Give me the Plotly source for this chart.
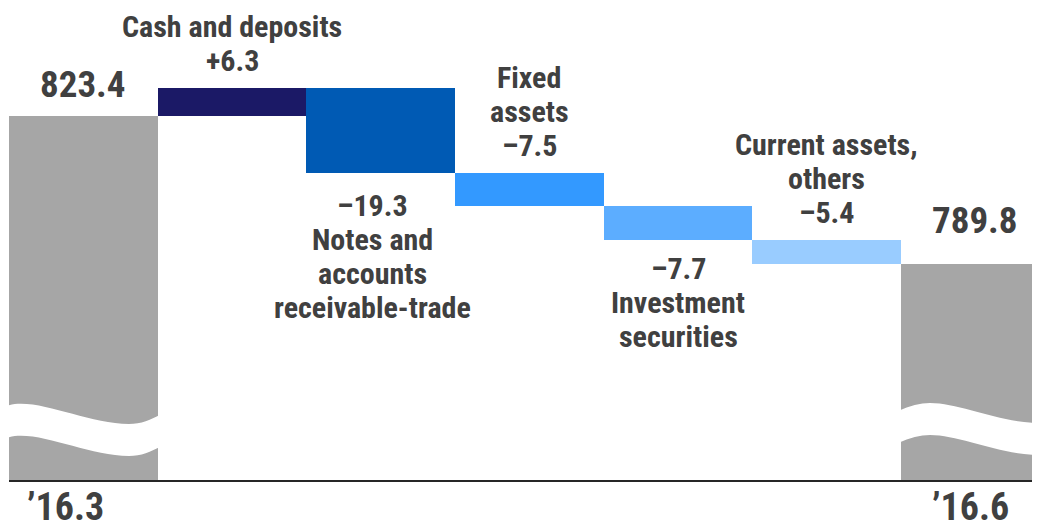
import plotly.graph_objects as go

# balance sheet walk, in the units shown on the chart
start_label = "\u201916.3"
end_label = "\u201916.6"
start_total = 823.4
end_total = 789.8
change_names = [
    ["Cash and deposits"],
    ["Notes and", "accounts", "receivable-trade"],
    ["Fixed", "assets"],
    ["Investment", "securities"],
    ["Current assets,", "others"],
]
changes = [6.3, -19.3, -7.5, -7.7, -5.4]
change_texts = ["+6.3", "\u201319.3", "\u20137.5", "\u20137.7", "\u20135.4"]
total_texts = ["823.4", "789.8"]

# styling
bar_colors = ["#a6a6a6", "#1b1966", "#005ab4", "#3399ff", "#5cadff", "#99ccff", "#a6a6a6"]
text_color = "#404040"
font_family = "Roboto Condensed, DejaVu Sans Condensed, sans-serif"
y_floor = 740.8
y_top = 847.9
line_gap = 34
label_above = [True, False, True, False, True]
edge_gap = [28, 32, 28, 28, 28]

# bar bases / heights from the running total
bases = [y_floor]
heights = [start_total - y_floor]
level = start_total
for c in changes:
    bases.append(level if c > 0 else level + c)
    heights.append(abs(c))
    level += c
bases.append(y_floor)
heights.append(end_total - y_floor)
xs = list(range(len(heights)))

fig = go.Figure(go.Bar(
    x=xs, y=heights, base=bases, width=1,
    marker=dict(color=bar_colors, line=dict(width=0)),
    hoverinfo="skip",
))

anns = []
def add_text(x, y, text, yshift, size=30, xshift=0):
    anns.append(dict(x=x, y=y, xref="x", yref="y", text=text, showarrow=False,
                     yanchor="middle", xanchor="center", xshift=xshift, yshift=yshift,
                     font=dict(family=font_family, size=size, color=text_color, weight="bold")))

for i, c in enumerate(changes):
    x = i + 1
    top = bases[x] + heights[x]
    bottom = bases[x]
    if label_above[i]:
        lines = change_names[i] + [change_texts[i]]
        n = len(lines)
        for k, ln in enumerate(lines):
            add_text(x, top, ln, edge_gap[i] + (n - 1 - k) * line_gap)
    else:
        lines = [change_texts[i]] + change_names[i]
        xsh = -8 if i == 1 else 0
        for k, ln in enumerate(lines):
            add_text(x, bottom, ln, -(edge_gap[i] + k * line_gap), xshift=xsh)

add_text(0, start_total, total_texts[0], 31, size=37)
add_text(6, end_total, total_texts[1], 44, size=37)
add_text(0, y_floor, start_label, -27, size=38, xshift=-18)
add_text(6, y_floor, end_label, -27, size=38, xshift=-5)

# wavy axis-break bands on the two total bars (dx in px from bar left edge, y in px)
bar_px = 148.67
plot_top = 8
plot_bottom = 480
band = 32
waves = {
    0: [(-3, 406), (27, 396), (77, 424), (120, 424), (132, 424), (142, 420), (152, 414)],
    6: [(-3, 411), (9, 406), (19, 403), (29, 403), (59, 403), (99, 423), (139, 423)],
}
shapes = []
for i, pts in waves.items():
    def pt(dx, py):
        return "%.4f,%.4f" % (i - 0.5 + dx / bar_px,
                              (plot_bottom - py) / (plot_bottom - plot_top))
    top = [pt(dx, py) for dx, py in pts]
    bot = [pt(dx, py + band) for dx, py in pts]
    extra_r = pt(bar_px + 5, pts[-1][1])
    extra_rb = pt(bar_px + 5, pts[-1][1] + band)
    path = ("M %s C %s %s %s C %s %s %s L %s L %s L %s C %s %s %s C %s %s %s Z" %
            (top[0], top[1], top[2], top[3], top[4], top[5], top[6], extra_r,
             extra_rb, bot[6], bot[5], bot[4], bot[3], bot[2], bot[1], bot[0]))
    shapes.append(dict(type="path", path=path, xref="x", yref="paper",
                       fillcolor="white", line=dict(width=0), layer="above"))

# page body has an 8px margin, so the figure is 8px smaller than the window
fig.update_layout(
    width=1032, height=521,
    margin=dict(l=1, r=0, t=0, b=49),
    plot_bgcolor="white", paper_bgcolor="white",
    showlegend=False, bargap=0,
    annotations=anns, shapes=shapes,
    xaxis=dict(range=[-0.5, -0.5 + 1031 / bar_px], showticklabels=False, ticks="",
               showgrid=False, zeroline=False, showline=True, linecolor="#262626",
               linewidth=1.5, fixedrange=True),
    yaxis=dict(range=[y_floor, y_top], visible=False, showgrid=False, fixedrange=True),
)

fig.write_html("out.html")
